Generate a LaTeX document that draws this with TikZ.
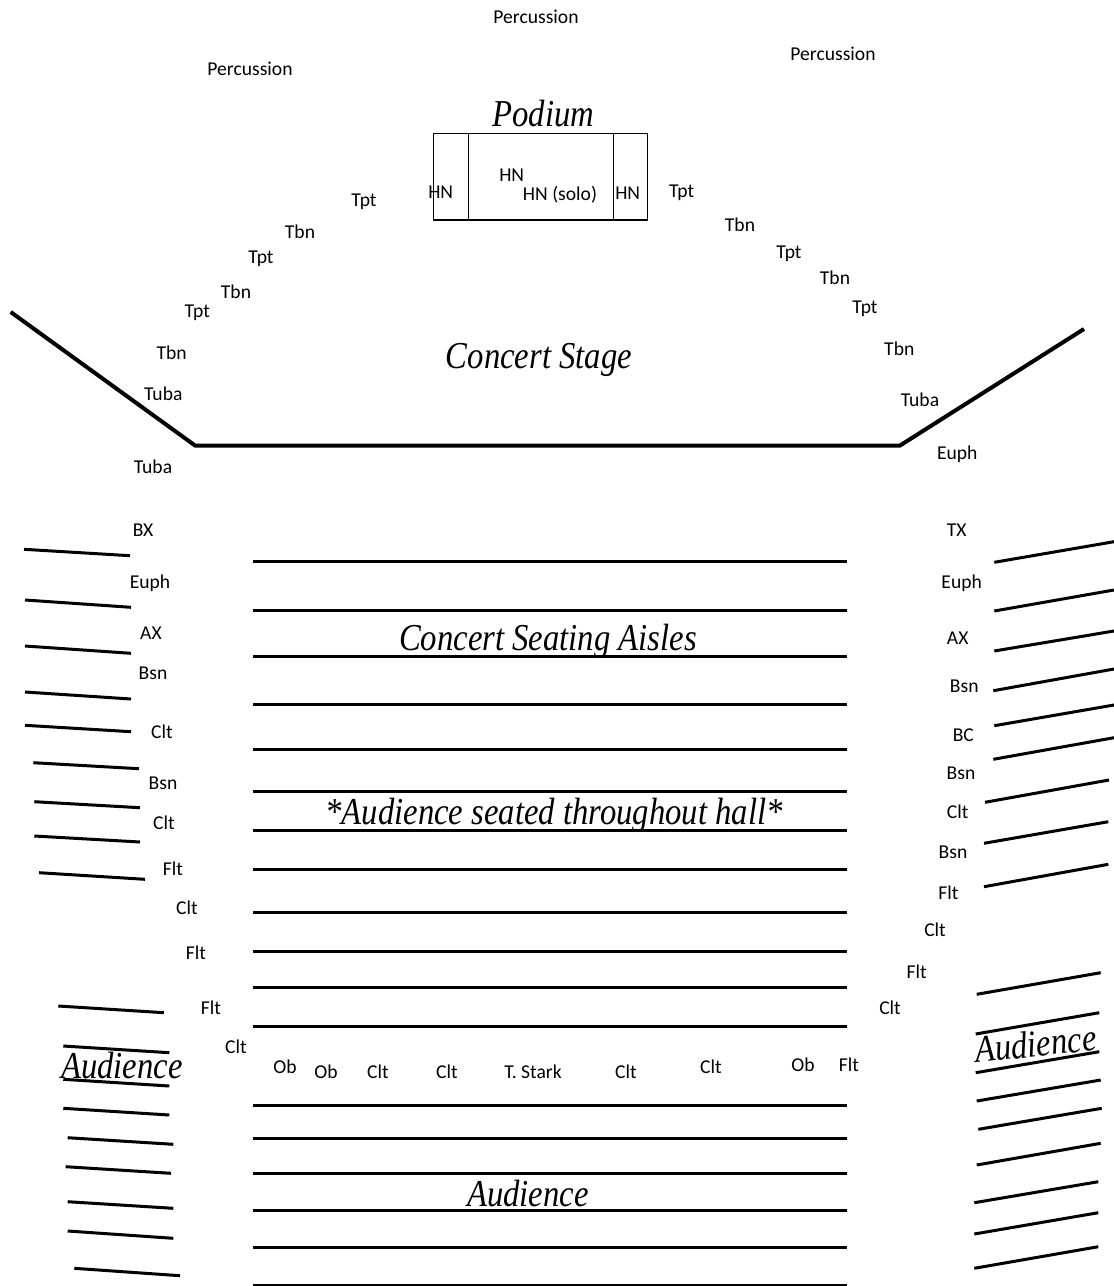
\documentclass[tikz,border=0pt]{standalone}
\usepackage{fontspec}
\setmainfont{Carlito}
\newfontfamily\headfont[FakeStretch=0.86]{Liberation Serif}
\begin{document}
\begin{tikzpicture}[x=0.75pt,y=-0.75pt,
  lbl/.style={font=\fontsize{14.7}{17}\selectfont, inner sep=0pt},
  head/.style={font=\headfont\itshape\fontsize{28.5}{34}\selectfont, inner sep=0pt, anchor=base},
  seat/.style={line width=2.25pt},
  wall/.style={line width=3pt, line join=miter},
  box/.style={line width=1.1pt}]
\useasboundingbox (0,0) rectangle (1114,1286);

% ---------- stage outline ----------
\coordinate (s1) at (10.7,312);
\coordinate (s2) at (195,445.5);
\coordinate (s3) at (900,445.5);
\coordinate (s4) at (1084,329);
\draw[wall] (s1) -- (s2) -- (s3) -- (s4);

% ---------- podium ----------
\coordinate (pA) at (433.3,133.3);
\coordinate (pB) at (647.3,220);
\draw[box] (pA) rectangle (pB);
\coordinate (pv1t) at (468.3,133.3); \coordinate (pv1b) at (468.3,220);
\coordinate (pv2t) at (613.3,133.3); \coordinate (pv2b) at (613.3,220);
\draw[box] (pv1t) -- (pv1b);
\draw[box] (pv2t) -- (pv2b);

% ---------- central seating rows ----------
\foreach \yy [count=\i] in {561.3,610.7,656.3,704.3,749.7,791.3,830,869.7,912,951.7,987,1026.3,1105,1138,1173.5,1210.5,1247,1285}{
  \coordinate (cl\i) at (253,\yy);
  \coordinate (cr\i) at (847,\yy);
  \draw[seat] (cl\i) -- (cr\i);
}

% ---------- left side rows ----------
\foreach \ax/\ay/\bx/\by [count=\i] in {
  24/549.3/130/555.7, 25/600/131/607.3, 25/646/131/653.3, 25/692/131/699,
  25/725.3/131/731.7, 33.3/762.7/139/768.7, 34.3/801.7/140/807.7,
  34.3/836/140/842, 39/872.7/145/879.3,
  58.3/1006/164/1012.7, 63.3/1046/169.3/1052.7, 63.3/1079.3/169.3/1086,
  63.3/1108.3/169.3/1115, 67.7/1137.7/173.3/1144.3, 65.7/1166.7/171/1173.3,
  67.7/1201.7/173.3/1208.3, 67.7/1231/173.3/1238.3, 74.3/1268.3/180/1275.7}{
  \coordinate (la\i) at (\ax,\ay);
  \coordinate (lb\i) at (\bx,\by);
  \draw[seat] (la\i) -- (lb\i);
}

% ---------- right side rows ----------
\foreach \ax/\ay/\bx/\by [count=\i] in {
  994.3/562.3/1114/541.7, 994.3/611/1114/590, 994.3/651/1114/631,
  993.3/690.7/1114/669, 994.3/725.7/1114/705, 993.3/759.3/1114/737.7,
  985/802.3/1109/780, 984/843.3/1108.3/821.7, 984/886.7/1108.3/864.3,
  976.7/994.3/1100.7/972.7, 975.7/1034/1099.3/1012.7, 975.7/1072.7/1099.3/1051.7,
  976.7/1101/1100.7/1080, 978.3/1129.3/1101.7/1108.3, 976.7/1165/1100.7/1143.3,
  974.3/1202.7/1098.3/1181.7, 974.3/1234/1098.3/1212.7, 974.3/1268.3/1098.3/1246.7}{
  \coordinate (ra\i) at (\ax,\ay);
  \coordinate (rb\i) at (\bx,\by);
  \draw[seat] (ra\i) -- (rb\i);
}

% ---------- headings ----------
\node[head] (hPodium) at (543.3,126) {Podium};
\node[head] (hStage) at (539,368) {Concert Stage};
\node[head] (hAisles) at (548,650) {Concert Seating Aisles};
\node[head] (hHall) at (554,824) {*Audience seated throughout hall*};
\node[head] (hAudB) at (528,1206.5) {Audience};
\node[head] (hAudL) at (122,1078.5) {Audience};
\node[head, rotate=6] (hAudR) at (1037,1056.5) {Audience};

% ---------- percussion ----------
\node[lbl] (perc1) at (536,17) {Percussion};
\node[lbl] (perc2) at (250,69) {Percussion};
\node[lbl] (perc3) at (833,54) {Percussion};

% ---------- horns ----------
\node[lbl] (hnL) at (440.7,192.7) {HN};
\node[lbl] (hnC) at (511.7,175) {HN};
\node[lbl] (hnS) at (560,195) {HN (solo)};
\node[lbl] (hnR) at (627.7,193.3) {HN};

% ---------- left brass ----------
\node[lbl] (lb1) at (364,202) {Tpt};
\node[lbl] (lb2) at (300,232) {Tbn};
\node[lbl] (lb3) at (261,259) {Tpt};
\node[lbl] (lb4) at (236,292) {Tbn};
\node[lbl] (lb5) at (197.3,312.7) {Tpt};
\node[lbl] (lb6) at (171.7,352.7) {Tbn};
\node[lbl] (lb7) at (163.3,394) {Tuba};
\node[lbl] (lb8) at (153,467) {Tuba};

% ---------- right brass ----------
\node[lbl] (rb1) at (681.7,192.7) {Tpt};
\node[lbl] (rb2) at (740,225) {Tbn};
\node[lbl] (rb3) at (789,254) {Tpt};
\node[lbl] (rb4) at (835,278) {Tbn};
\node[lbl] (rb5) at (865,309) {Tpt};
\node[lbl] (rb6) at (899.3,348.3) {Tbn};
\node[lbl] (rb7) at (920,399.3) {Tuba};
\node[lbl] (rb8) at (957.3,454.3) {Euph};

% ---------- left column ----------
\node[lbl] (lc1) at (143,530) {BX};
\node[lbl] (lc2) at (150,583) {Euph};
\node[lbl] (lc3) at (151,633) {AX};
\node[lbl] (lc4) at (153,673) {Bsn};
\node[lbl] (lc5) at (162,732) {Clt};
\node[lbl] (lc6) at (163,783) {Bsn};
\node[lbl] (lc7) at (164,823) {Clt};
\node[lbl] (lc8) at (173,869) {Flt};
\node[lbl] (lc9) at (187,908) {Clt};
\node[lbl] (lc10) at (196,953) {Flt};
\node[lbl] (lc11) at (211,1008) {Flt};
\node[lbl] (lc12) at (236,1047) {Clt};

% ---------- right column ----------
\node[lbl] (rc1) at (956.7,530) {TX};
\node[lbl] (rc2) at (961.7,583) {Euph};
\node[lbl] (rc3) at (957.7,638) {AX};
\node[lbl] (rc4) at (964.3,686.7) {Bsn};
\node[lbl] (rc5) at (963.3,735) {BC};
\node[lbl] (rc6) at (961,773) {Bsn};
\node[lbl] (rc7) at (957.7,812) {Clt};
\node[lbl] (rc8) at (953,852.3) {Bsn};
\node[lbl] (rc9) at (948.3,893) {Flt};
\node[lbl] (rc10) at (935,930) {Clt};
\node[lbl] (rc11) at (916.7,971.7) {Flt};
\node[lbl] (rc12) at (890,1007.7) {Clt};

% ---------- front row ----------
\node[lbl] (f1) at (285,1067) {Ob};
\node[lbl] (f2) at (326,1072) {Ob};
\node[lbl] (f3) at (378,1072) {Clt};
\node[lbl] (f4) at (447,1072) {Clt};
\node[lbl] (f5) at (533,1072) {T. Stark};
\node[lbl] (f6) at (626,1072) {Clt};
\node[lbl] (f7) at (711,1067) {Clt};
\node[lbl] (f8) at (803,1065) {Ob};
\node[lbl] (f9) at (849,1065) {Flt};
\end{tikzpicture}
\end{document}
